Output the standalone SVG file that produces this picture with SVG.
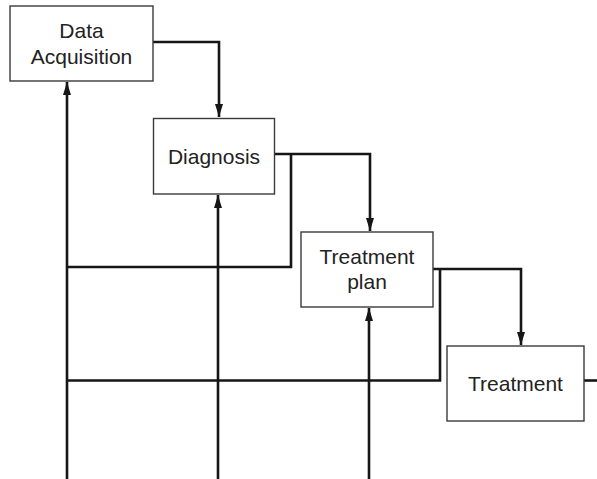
<svg xmlns="http://www.w3.org/2000/svg" width="597" height="479" viewBox="0 0 597 479">
  <defs>
    <style>
      .box { fill: #ffffff; stroke: #3a3a3a; stroke-width: 1.4; }
      .label { font-family: "Liberation Sans", Arial, sans-serif; font-size: 21px; fill: #222222; text-anchor: middle; }
      .flow { fill: none; stroke: #161616; stroke-width: 2.6; stroke-linejoin: miter; stroke-linecap: butt; }
    </style>
    <marker id="arrow" markerUnits="userSpaceOnUse" markerWidth="14" markerHeight="9" refX="13" refY="4" orient="auto">
      <path d="M0,0 L13,4 L0,8 Z" fill="#161616"/>
    </marker>
  </defs>

  <rect width="597" height="479" fill="#ffffff"/>

  <!-- connectors -->
  <g id="connectors">
    <!-- forward flow between stages -->
    <polyline class="flow" points="153,42 219,42 219,117" marker-end="url(#arrow)"/>
    <polyline class="flow" points="275,154 370,154 370,231" marker-end="url(#arrow)"/>
    <polyline class="flow" points="433,269 521,269 521,345" marker-end="url(#arrow)"/>
    <line class="flow" x1="584" y1="380.5" x2="597" y2="380.5"/>

    <!-- feedback branches -->
    <polyline class="flow" points="291,154 291,267 66,267"/>
    <polyline class="flow" points="440,269 440,380.5 66,380.5"/>

    <!-- inputs rising from below -->
    <line class="flow" x1="67" y1="479" x2="67" y2="82" marker-end="url(#arrow)"/>
    <line class="flow" x1="218" y1="479" x2="218" y2="195" marker-end="url(#arrow)"/>
    <line class="flow" x1="369" y1="479" x2="369" y2="308" marker-end="url(#arrow)"/>
  </g>

  <!-- stages -->
  <g id="data-acquisition">
    <rect class="box" x="10" y="6" width="143" height="75"/>
    <text class="label" x="81.5" y="37.5">Data</text>
    <text class="label" x="81.5" y="63.5">Acquisition</text>
  </g>

  <g id="diagnosis">
    <rect class="box" x="153.5" y="118.5" width="121" height="75.5"/>
    <text class="label" x="214" y="163.5">Diagnosis</text>
  </g>

  <g id="treatment-plan">
    <rect class="box" x="301" y="232" width="132" height="75"/>
    <text class="label" x="367" y="264">Treatment</text>
    <text class="label" x="367" y="288.5">plan</text>
  </g>

  <g id="treatment">
    <rect class="box" x="447" y="346" width="137" height="75"/>
    <text class="label" x="515.5" y="390.5">Treatment</text>
  </g>
</svg>
